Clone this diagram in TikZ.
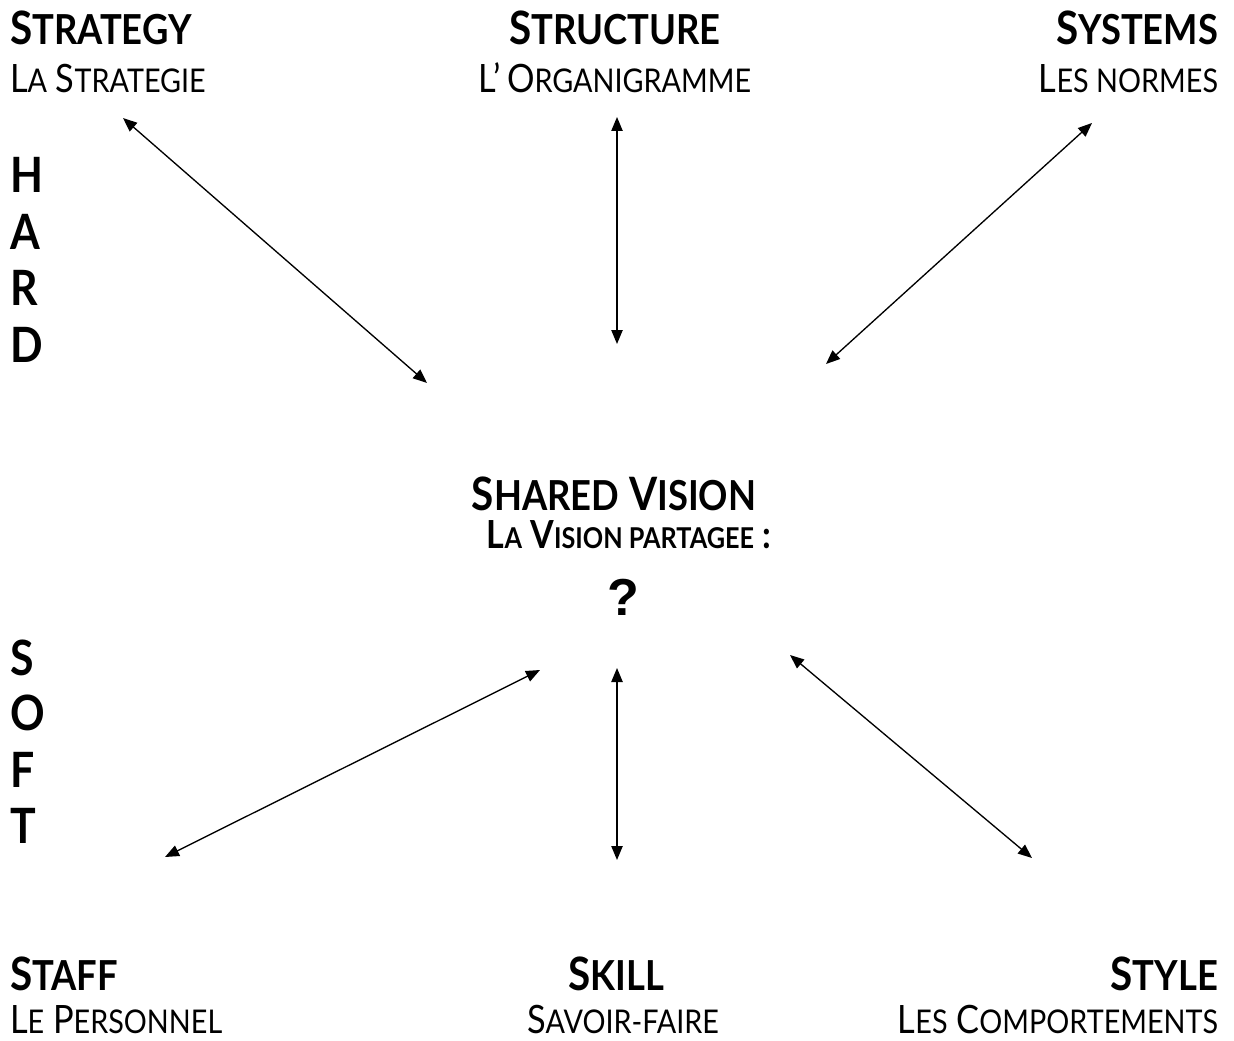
\documentclass[tikz,border=0pt]{standalone}
\usepackage{fontspec}
\setmainfont{Lato}[FakeStretch=0.88]
\newfontfamily\qfont{Liberation Sans}
\usetikzlibrary{arrows.meta}
% fake small caps helpers
\newcommand{\tsmc}[1]{{\fontsize{31}{33}\selectfont #1}}
\newcommand{\ssmc}[1]{{\fontsize{24.5}{26}\selectfont #1}}
\newcommand{\csmc}[1]{{\fontsize{21.5}{23}\selectfont #1}}
\tikzset{
  lbl/.style={inner sep=0pt, outer sep=0pt},
  ttlbox/.style={lbl, font=\fontsize{34.5}{36}\selectfont\bfseries},
  subbox/.style={lbl, font=\fontsize{29.3}{31}\selectfont},
  csubbox/.style={lbl, font=\fontsize{29}{31}\selectfont\bfseries},
  big/.style={lbl, font=\fontsize{36.5}{38}\selectfont\bfseries},
  link/.style={line width=1pt, {Triangle[length=10.5pt,width=8.5pt]}-{Triangle[length=10.5pt,width=8.5pt]}}
}
\begin{document}
\begin{tikzpicture}[x=0.75pt,y=-0.75pt]
\useasboundingbox (0,0) rectangle (1234,1041);
% top row
\node[ttlbox, anchor=base west] (strat) at (10,45) {S\tsmc{TRATEGY}};
\node[subbox, anchor=base west] (strats) at (10,93) {L\ssmc{A} S\ssmc{TRATEGIE}};
\node[ttlbox, anchor=base] (struc) at (615,45) {S\tsmc{TRUCTURE}};
\node[subbox, anchor=base] (strucs) at (615,93) {L’\,O\ssmc{RGANIGRAMME}};
\node[ttlbox, anchor=base east] (sys) at (1218,45) {S\tsmc{YSTEMS}};
\node[subbox, anchor=base east] (syss) at (1218,93) {L\ssmc{ES NORMES}};
% bottom row
\node[ttlbox, anchor=base west] (staff) at (10,990) {S\tsmc{TAFF}};
\node[subbox, anchor=base west] (staffs) at (10,1033) {L\ssmc{E} P\ssmc{ERSONNEL}};
\node[ttlbox, anchor=base] (skill) at (616,990) {S\tsmc{KILL}};
\node[subbox, anchor=base] (skills) at (623,1033) {S\ssmc{AVOIR-FAIRE}};
\node[ttlbox, anchor=base east] (style) at (1218,990) {S\tsmc{TYLE}};
\node[subbox, anchor=base east] (styles) at (1218,1033) {L\ssmc{ES} C\ssmc{OMPORTEMENTS}};
% centre
\node[ttlbox, anchor=base] (vis) at (614,510) {S\tsmc{HARED} V\tsmc{ISION}};
\node[csubbox, anchor=base] (viss) at (629,548) {L\csmc{A} V\csmc{ISION PARTAGEE} :};
\node[lbl, anchor=base, font=\qfont\fontsize{39}{40}\selectfont\bfseries] (q) at (623,615) {?};
% HARD / SOFT
\node[big, anchor=base west] (h1) at (10,193) {H};
\node[big, anchor=base west] (h2) at (10,250) {A};
\node[big, anchor=base west] (h3) at (10,305) {R};
\node[big, anchor=base west] (h4) at (10,362) {D};
\node[big, anchor=base west] (s1) at (10,675) {S};
\node[big, anchor=base west] (s2) at (10,730) {O};
\node[big, anchor=base west] (s3) at (10,787) {F};
\node[big, anchor=base west] (s4) at (10,843) {T};
% arrow end points
\coordinate (a1) at (123,118);  \coordinate (b1) at (427,383);
\coordinate (a2) at (617,117);  \coordinate (b2) at (617,344);
\coordinate (a3) at (1092,123); \coordinate (b3) at (826,364);
\coordinate (a4) at (165,857);  \coordinate (b4) at (540,670);
\coordinate (a5) at (617,668);  \coordinate (b5) at (617,860);
\coordinate (a6) at (790,655);  \coordinate (b6) at (1032,858);
\draw[link] (a1) -- (b1);
\draw[link] (a2) -- (b2);
\draw[link] (a3) -- (b3);
\draw[link] (a4) -- (b4);
\draw[link] (a5) -- (b5);
\draw[link] (a6) -- (b6);
\end{tikzpicture}
\end{document}
